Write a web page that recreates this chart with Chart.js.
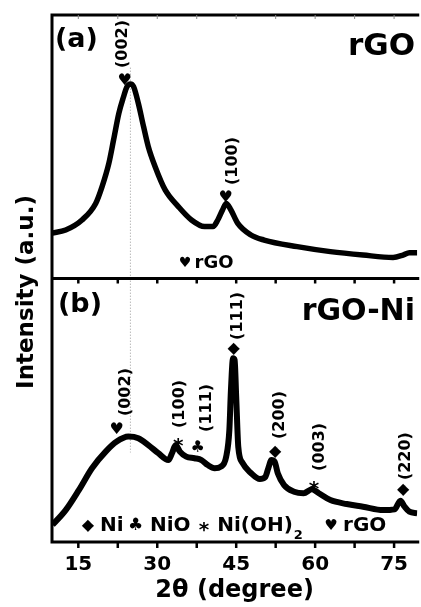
<!DOCTYPE html>
<html>
<head>
<meta charset="utf-8">
<script src="https://cdn.jsdelivr.net/npm/chart.js@4.4.0/dist/chart.umd.min.js"></script>
<style>
html, body { margin: 0; padding: 0; background: #fff; overflow: hidden; }
#wrap { width: 421px; height: 607px; }
</style>
</head>
<body>
<div id="wrap"><canvas id="xrd" width="421" height="607"></canvas></div>
<script>
// (a) rGO pattern: 2-theta (deg) and intensity (a.u., 0-100 within the panel)
var thetaA = [10, 12.6, 15.7, 18.3, 19.5, 20.8, 21.7, 22.7, 23.6, 24.2, 24.9, 25.5, 26.4, 27.4, 28.3, 29.6,
  31.5, 34.0, 36.5, 39.0, 40.6, 41.5, 42.4, 43.1, 44.0, 45.3, 47.8, 50.3, 56.6, 62.9, 69.1, 74.8, 76.7, 77.9, 79.4];
var rgo = [17.2, 18.4, 22.2, 28.5, 34.8, 43.7, 52.6, 62.7, 69.0, 72.6, 73.8, 72.8, 66.5, 57.6, 50.0, 42.4,
  33.6, 27.3, 22.2, 19.7, 19.7, 22.2, 26.0, 28.5, 26.0, 20.9, 16.5, 14.6, 12.1, 10.2, 8.9, 8.0, 8.9, 9.8, 9.8];

// (b) rGO-Ni pattern
var thetaB = [10.1, 12.6, 15.1, 17.6, 20.2, 22.3, 24.5, 26.4, 28.3, 30.2, 32.1, 32.8, 33.5, 34.3, 35.5, 37.1,
  38.4, 39.6, 40.9, 42.1, 43.1, 43.7, 44.0, 44.4, 44.7, 45.0, 45.4, 46.2, 47.8, 49.5, 50.5, 51.1, 51.7, 52.3,
  52.9, 54.1, 56.0, 57.8, 59.4, 60.7, 62.9, 66.0, 69.1, 72.9, 75.1, 76.2, 77.0, 77.9, 79.4];
var rgoNi = [6.5, 12.1, 19.7, 28.0, 34.3, 38.1, 40.0, 39.4, 36.8, 33.7, 31.1, 33.7, 36.8, 34.3, 32.4, 31.8,
  31.1, 29.2, 28.0, 28.6, 32.4, 42.5, 57.7, 69.7, 69.1, 55.1, 36.0, 30.0, 26.2, 23.9, 24.6, 28.0, 31.1, 30.5,
  26.1, 21.6, 19.1, 18.5, 20.0, 18.5, 15.9, 14.4, 13.4, 12.1, 12.4, 15.7, 13.4, 11.5, 10.9];

var xTicks = [15, 30, 45, 60, 75];
var frameTicks = [15, 22.5, 30, 37.5, 45, 52.5, 60, 67.5, 75];
var guideTheta = 24.9;

// peak labels: [2-theta, intensity within panel, text]
var peaksA = [[23.4, 89.0, '(002)'], [44.3, 44.6, '(100)']];
var marksA = [[23.8, 75.0, '\u2665'], [43.0, 30.6, '\u2665']];
var peaksB = [[24.0, 56.9, '(002)'], [34.3, 52.4, '(100)'], [39.4, 50.9, '(111)'], [45.3, 85.8, '(111)'],
  [53.2, 48.2, '(200)'], [60.9, 36.1, '(003)'], [77.3, 32.6, '(220)']];
var marksB = [[22.3, 42.5, '\u2665'], [34.0, 38.0, '*'], [37.7, 35.7, '\u2663'], [44.5, 73.2, '\u25C6'],
  [52.4, 34.2, '\u25C6'], [59.8, 21.7, '*'], [76.7, 19.7, '\u25C6']];

var FONT = 'DejaVu Sans';
var OFFSET = 100; // the rGO trace sits in the upper half

function bold(size) { return 'bold ' + size + 'px "' + FONT + '"'; }

function put(ctx, s, px, py, size, align, rot) {
  ctx.save();
  ctx.translate(px, py);
  if (rot) ctx.rotate(-Math.PI / 2);
  ctx.font = bold(size);
  ctx.textAlign = align || 'center';
  ctx.textBaseline = 'middle';
  ctx.fillText(s, 0, 0);
  ctx.restore();
}

function widthOf(ctx, s, size) {
  ctx.font = bold(size);
  return ctx.measureText(s).width;
}

function mark(ctx, s, px, py) {
  if (s === '*') put(ctx, s, px, py + 5, 20);
  else if (s === '\u25C6') put(ctx, s, px, py, 16);
  else put(ctx, s, px, py, 16);
}

var decorations = {
  id: 'decorations',
  beforeDatasetsDraw: function (chart) {
    var ctx = chart.ctx, x = chart.scales.x, y = chart.scales.y;
    ctx.save();
    ctx.strokeStyle = '#9a9a9a';
    ctx.lineWidth = 1;
    ctx.setLineDash([1, 2]);
    ctx.beginPath();
    ctx.moveTo(x.getPixelForValue(guideTheta), y.getPixelForValue(180));
    ctx.lineTo(x.getPixelForValue(guideTheta), y.getPixelForValue(34));
    ctx.stroke();
    ctx.restore();
  },
  afterDatasetsDraw: function (chart) {
    var ctx = chart.ctx, a = chart.chartArea, x = chart.scales.x, y = chart.scales.y;
    var mid = y.getPixelForValue(OFFSET);
    ctx.save();
    ctx.fillStyle = '#000';

    // frame
    ctx.strokeStyle = '#000';
    ctx.lineWidth = 3;
    ctx.beginPath();
    ctx.moveTo(a.left, a.bottom); ctx.lineTo(a.left, a.top - 1.5);
    ctx.moveTo(a.left - 1.5, a.top); ctx.lineTo(a.right + 2, a.top);
    ctx.moveTo(a.left - 1.5, mid); ctx.lineTo(a.right + 2, mid);
    ctx.moveTo(a.left - 1.5, a.bottom); ctx.lineTo(a.right + 2, a.bottom);
    ctx.stroke();

    frameTicks.forEach(function (t) {
      var px = x.getPixelForValue(t);
      ctx.lineWidth = 1;
      ctx.strokeStyle = '#888';
      ctx.beginPath(); ctx.moveTo(px, a.top); ctx.lineTo(px, a.top + 4); ctx.stroke();
      ctx.lineWidth = 2.5;
      ctx.strokeStyle = '#000';
      ctx.beginPath(); ctx.moveTo(px, mid); ctx.lineTo(px, mid + 5); ctx.stroke();
      ctx.beginPath(); ctx.moveTo(px, a.bottom); ctx.lineTo(px, a.bottom + 6); ctx.stroke();
    });

    // peak indices and phase symbols
    peaksA.forEach(function (p) { put(ctx, p[2], x.getPixelForValue(p[0]), y.getPixelForValue(p[1] + OFFSET), 16, 'center', true); });
    marksA.forEach(function (p) { mark(ctx, p[2], x.getPixelForValue(p[0]), y.getPixelForValue(p[1] + OFFSET)); });
    peaksB.forEach(function (p) { put(ctx, p[2], x.getPixelForValue(p[0]), y.getPixelForValue(p[1]), 16, 'center', true); });
    marksB.forEach(function (p) { mark(ctx, p[2], x.getPixelForValue(p[0]), y.getPixelForValue(p[1])); });

    // panel tags
    put(ctx, '(a)', a.left + 3, y.getPixelForValue(190.4), 27, 'left');
    put(ctx, 'rGO', 415, y.getPixelForValue(187.7), 31, 'right');
    put(ctx, '(b)', a.left + 6, y.getPixelForValue(90.1), 27, 'left');
    put(ctx, 'rGO-Ni', 415, y.getPixelForValue(87.3), 30, 'right');

    // phase keys
    var ka = y.getPixelForValue(OFFSET + 5.9);
    put(ctx, '\u2665', x.getPixelForValue(35.3), ka, 14);
    put(ctx, 'rGO', x.getPixelForValue(37.1), ka, 18, 'left');

    var kb = y.getPixelForValue(6.2);
    put(ctx, '\u25C6', x.getPixelForValue(16.8), kb, 16);
    put(ctx, 'Ni', x.getPixelForValue(19.1), kb, 20, 'left');
    put(ctx, '\u2663', x.getPixelForValue(25.9), kb, 17);
    put(ctx, 'NiO', x.getPixelForValue(28.6), kb, 20, 'left');
    put(ctx, '*', x.getPixelForValue(38.9), kb + 5, 20);
    var ohLeft = x.getPixelForValue(41.4);
    put(ctx, 'Ni(OH)', ohLeft, kb, 20, 'left');
    put(ctx, '2', ohLeft + widthOf(ctx, 'Ni(OH)', 20) + 1, kb + 10, 13, 'left');
    put(ctx, '\u2665', x.getPixelForValue(63.0), kb, 15);
    put(ctx, 'rGO', x.getPixelForValue(65.3), kb, 20, 'left');

    // shared intensity axis title
    put(ctx, 'Intensity (a.u.)', 27, 292, 23, 'center', true);
    ctx.restore();
  }
};

var ctx = document.getElementById('xrd').getContext('2d');
var xrdChart = new Chart(ctx, {
  type: 'line',
  data: {
    datasets: [{
      label: 'rGO',
      data: thetaA.map(function (t, i) { return { x: t, y: rgo[i] + OFFSET }; }),
      borderColor: '#000',
      borderWidth: 5.5,
      pointRadius: 0,
      cubicInterpolationMode: 'monotone',
      fill: false
    }, {
      label: 'rGO-Ni',
      data: thetaB.map(function (t, i) { return { x: t, y: rgoNi[i] }; }),
      borderColor: '#000',
      borderWidth: 6,
      pointRadius: 0,
      cubicInterpolationMode: 'monotone',
      fill: false
    }]
  },
  options: {
    responsive: false,
    animation: false,
    layout: { padding: { left: 52, top: 15, right: 0, bottom: 0 } },
    plugins: { legend: { display: false }, tooltip: { enabled: false } },
    scales: {
      x: {
        type: 'linear',
        min: 10,
        max: 79.4,
        afterBuildTicks: function (s) { s.ticks = xTicks.map(function (v) { return { value: v }; }); },
        grid: { display: false, drawTicks: false },
        border: { display: false },
        ticks: { color: '#000', font: { family: FONT, size: 20, weight: 'bold', lineHeight: 1 }, padding: 13, maxRotation: 0, autoSkip: false },
        title: { display: true, text: '2\u03B8 (degree)', color: '#000', font: { family: FONT, size: 24, weight: 'bold', lineHeight: 1 }, padding: { top: -9, bottom: 4 } }
      },
      y: { display: false, min: 0, max: 200 }
    }
  },
  plugins: [decorations]
});
</script>
</body>
</html>
